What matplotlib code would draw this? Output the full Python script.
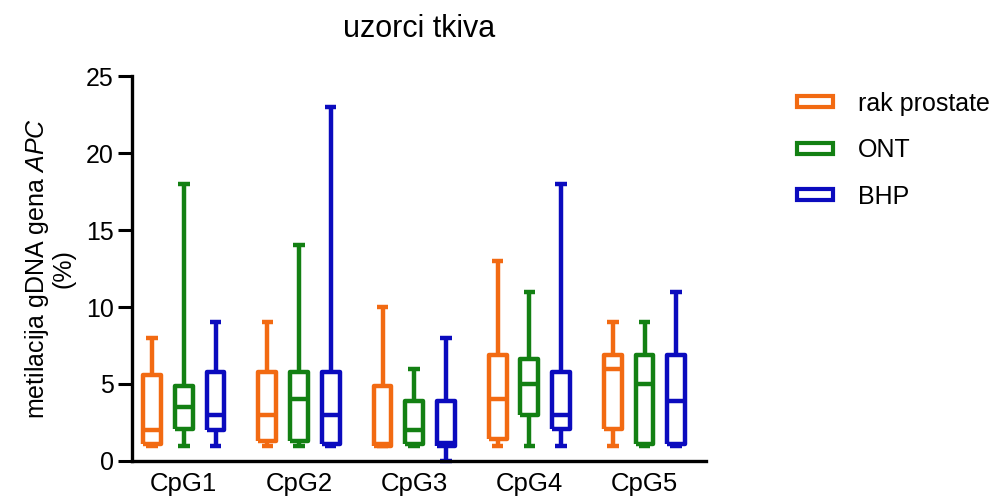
import matplotlib.pyplot as plt
from matplotlib.patches import Patch

plt.rcParams['font.family'] = ['Liberation Sans', 'DejaVu Sans']
plt.rcParams['mathtext.fontset'] = 'custom'
plt.rcParams['mathtext.rm'] = 'Liberation Sans'
plt.rcParams['mathtext.it'] = 'Liberation Sans:italic'

sites = ['CpG1', 'CpG2', 'CpG3', 'CpG4', 'CpG5']
groups = ['rak prostate', 'ONT', 'BHP']
colors = ['#F26A12', '#138013', '#0B0BBE']

# five-number summaries per site: (min, q1, median, q3, max)
rak_prostate = [(1, 1.1, 2.0, 5.6, 8), (1, 1.3, 3.0, 5.8, 9), (1, 1.0, 1.1, 4.9, 10),
                (1, 1.4, 4.0, 6.9, 13), (1, 2.1, 6.0, 6.9, 9)]
ont = [(1, 2.1, 3.5, 4.9, 18), (1, 1.3, 4.0, 5.8, 14), (1, 1.1, 2.0, 3.9, 6),
       (1, 3.0, 5.0, 6.6, 11), (1, 1.1, 5.0, 6.9, 9)]
bhp = [(1, 2.0, 3.0, 5.8, 9), (1, 1.1, 3.0, 5.8, 23), (0, 1.0, 1.15, 3.9, 8),
       (1, 2.1, 3.0, 5.8, 18), (1, 1.1, 3.9, 6.9, 11)]

fig = plt.figure(figsize=(10.08, 5.01), dpi=100)
ax = fig.add_axes([0.131, 0.08, 0.569, 0.768])

offsets = [-0.275, 0.0, 0.275]
for series, color, off in zip([rak_prostate, ont, bhp], colors, offsets):
    stats = []
    for lo, q1, med, q3, hi in series:
        stats.append({'whislo': lo, 'q1': q1, 'med': med, 'q3': q3, 'whishi': hi})
    lw = 3.2
    ax.bxp(stats, positions=[i + 1 + off for i in range(len(sites))],
           widths=0.155, capwidths=0.1, showfliers=False,
           boxprops=dict(color=color, linewidth=lw),
           whiskerprops=dict(color=color, linewidth=lw),
           capprops=dict(color=color, linewidth=lw),
           medianprops=dict(color=color, linewidth=lw),
           manage_ticks=False)

for art in ax.lines:
    art.set_clip_on(False)
    art.set_solid_capstyle('butt')

ax.set_xlim(0.55, 5.53)
ax.set_ylim(0, 25)
ax.set_yticks([0, 5, 10, 15, 20, 25])
ax.set_xticks(range(1, len(sites) + 1))
ax.set_xticklabels(sites)
ax.tick_params(axis='y', labelsize=18, length=10, width=2.2, pad=3)
ax.tick_params(axis='x', labelsize=18.5, length=0, pad=8)

for side in ['top', 'right']:
    ax.spines[side].set_visible(False)
for side in ['left', 'bottom']:
    ax.spines[side].set_linewidth(2.4)

ax.set_ylabel('metilacija gDNA gena $\\mathit{APC}$\n(%)', fontsize=18, labelpad=8,
              linespacing=1.0)
ax.set_title('uzorci tkiva', fontsize=22, pad=28)

handles = [Patch(facecolor='white', edgecolor=c, linewidth=3, label=g)
           for c, g in zip(colors, groups)]
fig.legend(handles=handles, loc='upper left', bbox_to_anchor=(0.768, 0.862),
           frameon=False, fontsize=18, handlelength=1.45, handleheight=0.3,
           handletextpad=1.0, labelspacing=0.9)

fig.savefig('out.png', dpi=100)
